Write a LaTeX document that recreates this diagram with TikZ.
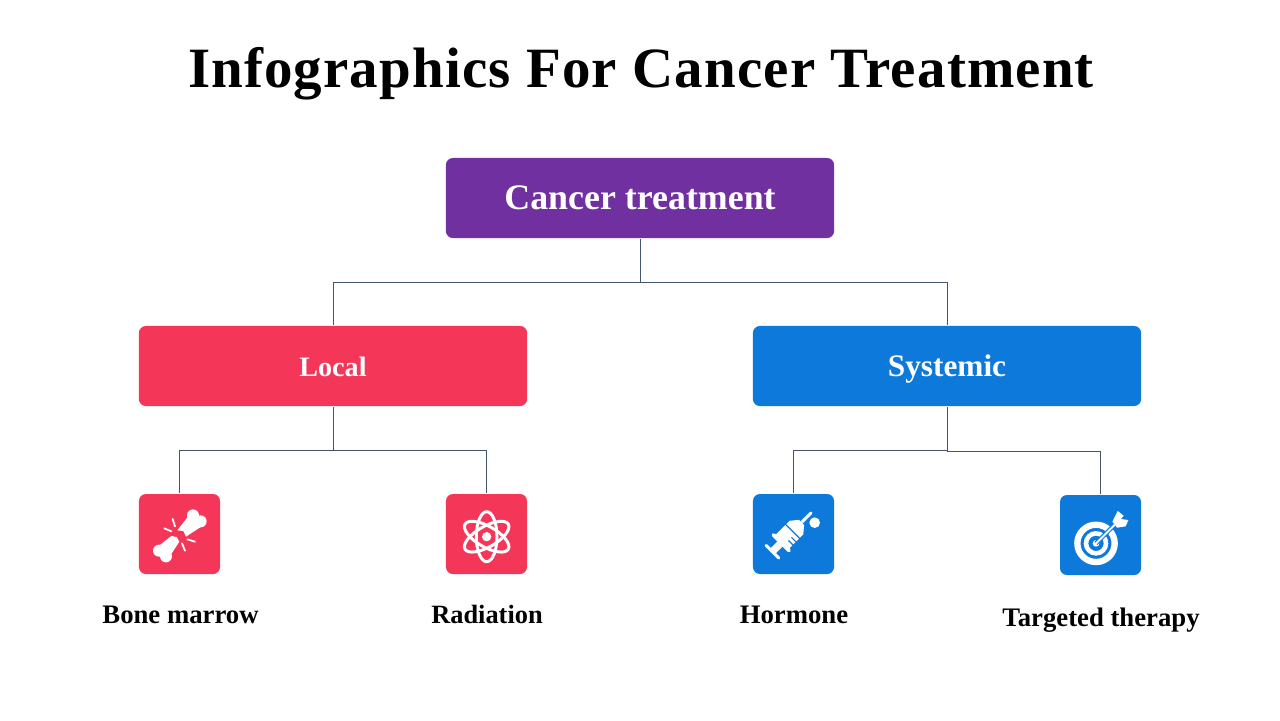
\documentclass[tikz,border=0pt]{standalone}
\usepackage{fontspec}
\setmainfont{Liberation Serif}[BoldFont={Liberation Serif Bold}]
\newfontfamily\titlefont{Liberation Serif Bold}[LetterSpace=2.0]
\definecolor{purplebox}{HTML}{7030A0}
\definecolor{redbox}{HTML}{F43759}
\definecolor{bluebox}{HTML}{0D7ADB}
\definecolor{linkcol}{HTML}{44546A}
\tikzset{
	bigbox/.style={rounded corners=0.07cm,minimum width=3.88cm,minimum height=0.8cm,inner sep=0pt,text=white,text height=6.3pt,text depth=0.5pt},
	iconbox/.style={rounded corners=0.07cm,minimum width=0.81cm,minimum height=0.8cm,inner sep=0pt},
	caption/.style={anchor=base,inner sep=0pt,font=\fontsize{7.6}{9}\selectfont\bfseries},
	link/.style={linkcol,line width=0.22pt},
	whiteline/.style={white,line cap=round,line join=round}
}
\begin{document}
\begin{tikzpicture}[x=0.01cm,y=-0.01cm]
	\useasboundingbox (0,0) rectangle (1280,720);
	\node[anchor=base,inner sep=0pt,font=\fontsize{16.2}{18}\titlefont] (title) at (641,87) {Infographics For Cancer Treatment};
	% boxes
	\node[bigbox,fill=purplebox,text height=7.3pt,font=\fontsize{10.2}{12}\selectfont\bfseries] (treat) at (640,198) {Cancer treatment};
	\node[bigbox,fill=redbox,font=\fontsize{8}{10}\selectfont\bfseries] (local) at (333,366) {Local};
	\node[bigbox,fill=bluebox,font=\fontsize{8.9}{10}\selectfont\bfseries] (systemic) at (947,366) {Systemic};
	\node[iconbox,fill=redbox] (bone) at (179.5,534) {};
	\node[iconbox,fill=redbox] (radiation) at (486.5,534) {};
	\node[iconbox,fill=bluebox] (hormone) at (793.5,534) {};
	\node[iconbox,fill=bluebox] (target) at (1100.5,535) {};
	% labels
	\node[caption] (bonetext) at (180.5,623) {Bone marrow};
	\node[caption,font=\fontsize{7.5}{9}\selectfont\bfseries] (radiationtext) at (487,623) {Radiation};
	\node[caption] (hormonetext) at (794,623) {Hormone};
	\node[caption] (targettext) at (1101,626) {Targeted therapy};
	% connectors
	\coordinate (treatbus) at (640,282);
	\coordinate (localbus) at (333,450);
	\coordinate (sysbusa) at (947,450);
	\coordinate (sysbusb) at (947,451);
	\draw[link] (treat.south) -- (treatbus) -| (local.north);
	\draw[link] (treatbus) -| (systemic.north);
	\draw[link] (local.south) -- (localbus) -| (bone.north);
	\draw[link] (localbus) -| (radiation.north);
	\draw[link] (systemic.south) -- (sysbusb) -| (target.north);
	\draw[link] (sysbusa) -| (hormone.north);
	% bone
	\begin{scope}[shift={(130,485)},scale=1/3]
		\fill[white] (189,91) circle (18) (212,109) circle (18);
		\fill[white] (87,197) circle (18) (108,214) circle (18);
		\fill[white] (176,92) -- (218,122) -- (168,155) -- (160,138) -- (142,136) -- cycle;
		\fill[white] (124,153) -- (140,156) -- (148,170) -- (118,216) -- (82,186) -- cycle;
		\draw[whiteline,line width=0.5pt] (128,102) -- (135,124) (103,130) -- (124,139) (172,163) -- (195,170) (156,175) -- (165,197);
	\end{scope}
	% atom
	\begin{scope}[shift={(437,485)},scale=1/3]
		\fill[white] (149,155) circle (14);
		\foreach \a in {90,30,-30}
			\draw[white,line width=0.85pt,rotate around={\a:(149,155)}] (149,155) ellipse (75 and 31);
	\end{scope}
	% syringe
	\begin{scope}[shift={(744,485)},scale=1/3]
		\fill[white] (212,113) circle (16);
		\begin{scope}[shift={(85,200)},rotate=45]
			\draw[whiteline,line width=0.85pt] (0,-27) -- (0,27);
			\fill[white] (0,-11) rectangle (40,11);
			\draw[whiteline,line width=1.1pt] (38,-33) -- (38,33);
			\fill[white] (44,-29) -- (102,-29) -- (124,-11) -- (124,11) -- (102,29) -- (44,29) -- cycle;
			\draw[whiteline,line width=0.85pt] (118,0) -- (164,0);
			\draw[bluebox,line width=0.35pt] (58,10) -- (58,31) (71,10) -- (71,31) (86,-31) -- (86,31);
		\end{scope}
	\end{scope}
	% target
	\begin{scope}[shift={(1051,485)},scale=1/3]
		\draw[white,line width=1.8pt] (135,175) circle (56);
		\draw[white,line width=1.3pt] (135,175) circle (30);
		\fill[white] (135,175) circle (10);
		\draw[bluebox,line width=1.2pt] (135,175) -- (185,125);
		\draw[whiteline,line width=0.55pt] (135,175) -- (190,120);
		\fill[white] (184,110) -- (200,78) -- (218,92) -- (210,102) -- (232,105) -- (224,124) -- (198,128) -- cycle;
	\end{scope}
\end{tikzpicture}
\end{document}
